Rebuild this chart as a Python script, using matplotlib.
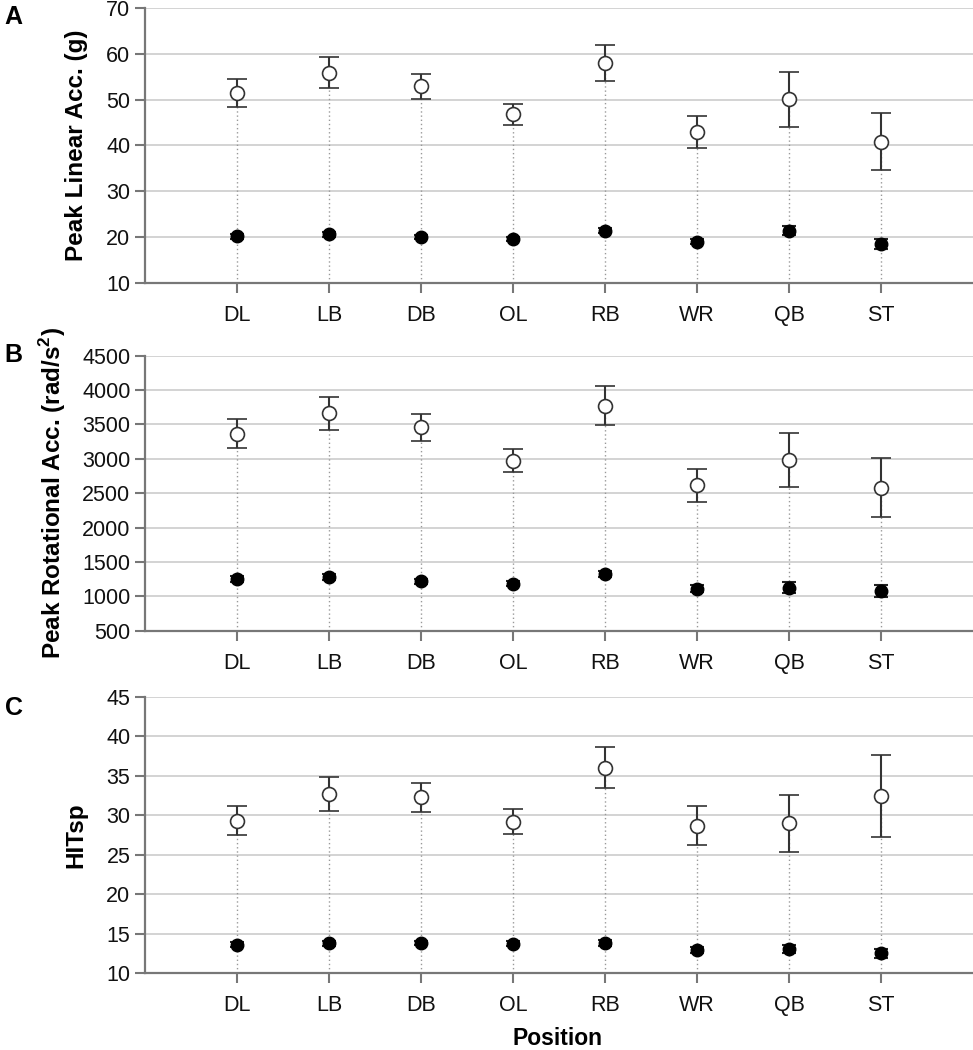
import matplotlib
matplotlib.use('Agg')
import matplotlib.pyplot as plt

plt.rcParams['font.family'] = ['Liberation Sans', 'DejaVu Sans']

positions = ['DL', 'LB', 'DB', 'OL', 'RB', 'WR', 'QB', 'ST']

# panel A - peak linear acceleration (g)
lin_open = [51.5, 55.9, 52.9, 46.8, 58.0, 42.9, 50.1, 40.8]
lin_open_err = [3.0, 3.4, 2.8, 2.3, 4.0, 3.5, 6.0, 6.2]
lin_fill = [20.2, 20.6, 20.0, 19.6, 21.4, 19.0, 21.4, 18.5]
lin_fill_err = [0.5, 0.5, 0.5, 0.5, 0.6, 0.5, 1.0, 1.1]

# panel B - peak rotational acceleration (rad/s^2)
rot_open = [3366, 3666, 3458, 2973, 3773, 2614, 2983, 2580]
rot_open_err = [215, 240, 200, 165, 280, 235, 390, 430]
rot_fill = [1247, 1281, 1218, 1184, 1325, 1111, 1126, 1082]
rot_fill_err = [45, 45, 40, 40, 50, 50, 80, 90]

# panel C - HITsp
hit_open = [29.3, 32.7, 32.3, 29.2, 36.0, 28.7, 29.0, 32.5]
hit_open_err = [1.85, 2.1, 1.85, 1.6, 2.6, 2.45, 3.6, 5.2]
hit_fill = [13.6, 13.75, 13.8, 13.7, 13.8, 12.95, 13.05, 12.5]
hit_fill_err = [0.3, 0.3, 0.3, 0.3, 0.35, 0.35, 0.5, 0.6]

panels = [
    ('A', 'Peak Linear Acc. (g)', lin_open, lin_open_err, lin_fill, lin_fill_err, (10, 70), 10),
    ('B', 'Peak Rotational Acc. (rad/s$^{\\mathregular{2}}$)', rot_open, rot_open_err, rot_fill, rot_fill_err, (500, 4500), 500),
    ('C', 'HITsp', hit_open, hit_open_err, hit_fill, hit_fill_err, (10, 45), 5),
]

fig = plt.figure(figsize=(9.73, 10.5), dpi=100)
ax_left, ax_w = 0.149, 0.851
boxes = [(0.7305, 0.9924), (0.3993, 0.6612), (0.0733, 0.3362)]
label_x = [0.0905, 0.070, 0.0895]   # right edge of rotated label, figure fraction
letter_y = [0.984, 0.662, 0.326]
x = list(range(1, len(positions) + 1))

for i, (letter, ylabel, op, ope, fi, fie, ylim, step) in enumerate(panels):
    b, t = boxes[i]
    ax = fig.add_axes([ax_left, b, ax_w, t - b])
    ax.set_xlim(0, 9)
    ax.set_ylim(*ylim)
    ax.set_yticks(range(ylim[0], ylim[1] + 1, step))
    ax.set_xticks(x)
    ax.set_xticklabels(positions)
    ax.grid(axis='y', color='#cccccc', linewidth=1.2)
    ax.set_axisbelow(True)
    ax.vlines(x, ylim[0], op, colors='#999999', linestyles=(0, (1, 2)), linewidth=1, zorder=1)
    ax.errorbar(x, op, yerr=ope, fmt='o', mfc='white', mec='#333333', mew=1.2, ms=10,
                ecolor='#333333', elinewidth=1.5, capsize=7, capthick=1.5, zorder=3)
    ax.errorbar(x, fi, yerr=fie, fmt='o', mfc='black', mec='black', ms=9,
                ecolor='#222222', elinewidth=1.5, capsize=5, capthick=1.5, zorder=3)
    for s in ['top', 'right']:
        ax.spines[s].set_visible(False)
    for s in ['left', 'bottom']:
        ax.spines[s].set_color('#777777')
        ax.spines[s].set_linewidth(1.6)
    ax.tick_params(axis='both', colors='#777777', width=1.5, length=7, labelsize=15.5,
                   labelcolor='#111111')
    ax.tick_params(axis='x', pad=9)
    ax.set_ylabel(ylabel, fontsize=17.5, fontweight='bold')
    ax.yaxis.set_label_coords((label_x[i] - ax_left) / ax_w, 0.5)
    fig.text(0.005, letter_y[i], letter, fontsize=18, fontweight='bold', va='center')

fig.text(0.573, 0.0105, 'Position', fontsize=16.5, fontweight='bold', ha='center', va='center')

fig.savefig('out.png', dpi=100)
